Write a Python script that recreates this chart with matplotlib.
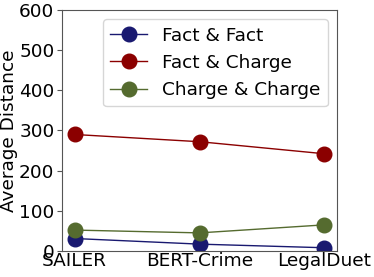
import matplotlib
matplotlib.use("Agg")
import matplotlib.pyplot as plt

models = ["SAILER", "BERT-Crime", "LegalDuet"]
fact_fact = [31, 17, 8]
fact_charge = [290, 272, 242]
charge_charge = [52, 45, 65]

FS = 13.3

fig = plt.figure(figsize=(3.74, 2.77), dpi=100)
ax = fig.add_axes([0.166, 0.094, 0.735, 0.870])

x = range(len(models))
ax.plot(x, fact_fact, marker="o", ms=10.5, lw=1, color="#191970", label="Fact & Fact")
ax.plot(x, fact_charge, marker="o", ms=10.5, lw=1, color="#8b0000", label="Fact & Charge")
ax.plot(x, charge_charge, marker="o", ms=10.5, lw=1, color="#556b2f", label="Charge & Charge")

ax.set_xticks(list(x))
ax.set_xticklabels(models, fontsize=FS)
ax.tick_params(axis="x", length=0, pad=1)
ax.tick_params(axis="y", labelsize=FS, color="#555555", pad=2)
ax.set_ylim(0, 600)
ax.set_yticks([0, 100, 200, 300, 400, 500, 600])
ax.set_ylabel("Average Distance", fontsize=FS, labelpad=1)
for s in ax.spines.values():
    s.set_color("#555555")
ax.legend(loc="upper right", fontsize=FS)

fig.savefig("out.png", dpi=100)
